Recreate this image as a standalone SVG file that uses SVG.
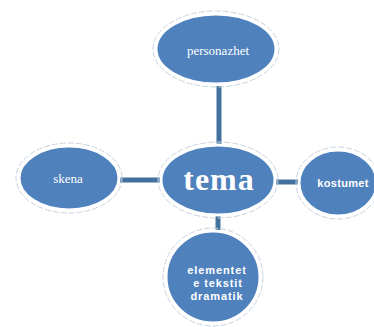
<svg xmlns="http://www.w3.org/2000/svg" width="374" height="327" viewBox="0 0 374 327">
<style>
.halo{fill:none;stroke:#c9d3e0;stroke-width:1;stroke-dasharray:6 2}
.node{fill:#4f81bd;stroke:#ffffff;stroke-width:3}
.conn{stroke:#41719c;stroke-width:5;fill:none}
.serif{font-family:"Liberation Serif","Times New Roman",serif;fill:#ffffff;text-anchor:middle}
.sans{font-family:"Liberation Sans Narrow","Liberation Sans",Arial,sans-serif;font-weight:bold;fill:#ffffff;text-anchor:middle;font-size:11px;letter-spacing:0.3px}
.wide{letter-spacing:0.9px}
</style>
<rect width="374" height="327" fill="#ffffff"/>
<g id="connectors">
<line class="conn" x1="219" y1="86" x2="219" y2="146"/>
<line class="conn" x1="120" y1="180" x2="162" y2="180"/>
<line class="conn" x1="275" y1="182" x2="298" y2="182"/>
<line class="conn" x1="218" y1="214" x2="218" y2="232"/>
</g>
<g id="personazhet">
<ellipse class="halo" cx="216" cy="49" rx="63" ry="38"/>
<ellipse class="node" cx="216" cy="49" rx="60" ry="35"/>
<text class="serif" x="218" y="55" font-size="13">personazhet</text>
</g>
<g id="tema">
<ellipse class="halo" cx="218" cy="180" rx="60" ry="38"/>
<ellipse class="node" cx="218" cy="180" rx="57" ry="35"/>
<text class="serif" x="219" y="190" font-size="32" font-weight="bold" letter-spacing="1">tema</text>
</g>
<g id="skena">
<ellipse class="halo" cx="69" cy="178" rx="53" ry="35"/>
<ellipse class="node" cx="69" cy="178" rx="50" ry="32"/>
<text class="serif" x="68" y="183" font-size="13">skena</text>
</g>
<g id="kostumet">
<ellipse class="halo" cx="338" cy="183" rx="42" ry="36"/>
<ellipse class="node" cx="338" cy="183" rx="39" ry="33"/>
<text class="sans" x="343" y="187">kostumet</text>
</g>
<g id="elementet">
<ellipse class="halo" cx="213" cy="277" rx="50" ry="49"/>
<ellipse class="node" cx="213" cy="277" rx="47" ry="46"/>
<text class="sans wide" x="217" y="274">elementet</text>
<text class="sans wide" x="218" y="287">e tekstit</text>
<text class="sans wide" x="217" y="300">dramatik</text>
</g>
</svg>
